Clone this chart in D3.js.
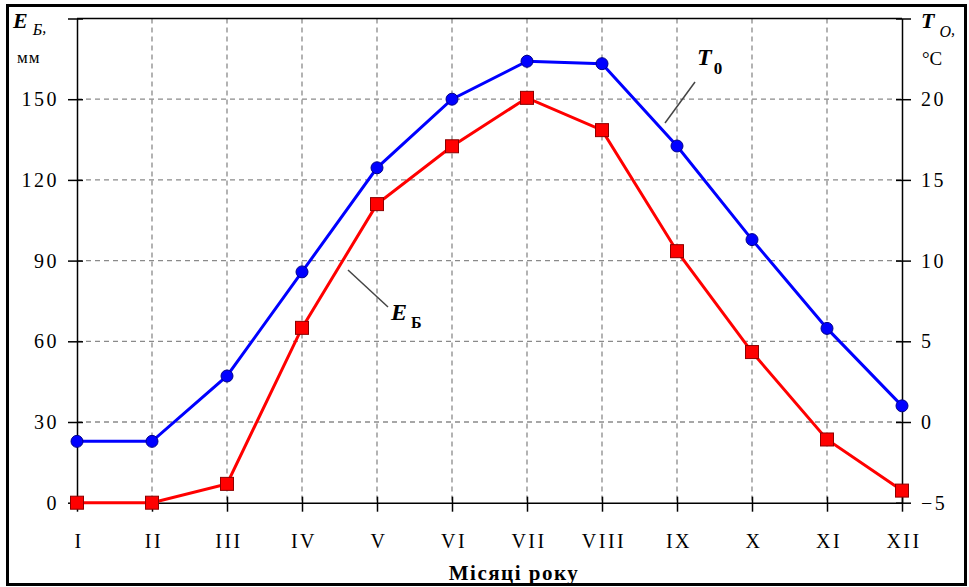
<!DOCTYPE html>
<html lang="uk">
<head>
<meta charset="UTF-8">
<title>Випаровування і температура</title>
<script src="https://d3js.org/d3.v7.min.js"></script>
<style type="text/css">
    body { margin: 0; background: #fff; }
    svg text { font-family: "Liberation Serif", "DejaVu Serif", serif; fill: #000; }
    .tickLbl { font-size: 20px; letter-spacing: 2.5px; }
    .grid { stroke: #8a8a8a; stroke-width: 1.3; stroke-dasharray: 5,4; }
</style>
</head>
<body>
<div id="chart"></div>
<script type="text/javascript">
// місяці та дані
var months = ['I', 'II', 'III', 'IV', 'V', 'VI', 'VII', 'VIII', 'IX', 'X', 'XI', 'XII'];
var evap = [0, 0, 7, 65, 111, 132.5, 150.5, 138.5, 93.5, 56, 23.5, 4.5];        // E_Б, мм
var temp = [-1.2, -1.2, 2.85, 9.3, 15.75, 20, 22.35, 22.2, 17.1, 11.3, 5.8, 1.0]; // T_O, °C
var leftTicks = [0, 30, 60, 90, 120, 150, 180];
var rightTicks = [-5, 0, 5, 10, 15, 20, 25];

var w = 969, h = 587;
var x0 = 77, x1 = 902, yTop = 18.5, yBot = 502.7;

var svg = d3.select('#chart').append('svg')
    .attr('width', w)
    .attr('height', h);

// рамка
svg.append('rect')
    .attr('x', 7.5).attr('y', 5.5)
    .attr('width', 958).attr('height', 579)
    .attr('fill', 'none').attr('stroke', '#000').attr('stroke-width', 3);

var x = d3.scalePoint().domain(months).range([x0, x1]);
var yL = d3.scaleLinear().domain([0, 180]).range([yBot, yTop]);
var yR = d3.scaleLinear().domain([-5, 25]).range([yBot, yTop]);

// сітка
svg.append('g').selectAll('line')
    .data(leftTicks.slice(1, -1))
    .enter().append('line')
    .attr('class', 'grid')
    .attr('x1', x0).attr('x2', x1)
    .attr('y1', function (d) { return yL(d); })
    .attr('y2', function (d) { return yL(d); });

svg.append('g').selectAll('line')
    .data(months.slice(1, -1))
    .enter().append('line')
    .attr('class', 'grid')
    .attr('y1', yTop).attr('y2', yBot)
    .attr('x1', function (d) { return x(d); })
    .attr('x2', function (d) { return x(d); });

// верхня лінія рамки графіка
svg.append('line')
    .attr('x1', x0).attr('x2', x1)
    .attr('y1', yTop).attr('y2', yTop)
    .attr('stroke', '#000').attr('stroke-width', 1.5);

// осі
var axL = svg.append('g')
    .attr('transform', 'translate(' + x0 + ',0)')
    .call(d3.axisLeft(yL).tickValues(leftTicks).tickSizeInner(9).tickSizeOuter(0).tickPadding(12));
var axR = svg.append('g')
    .attr('transform', 'translate(' + x1 + ',0)')
    .call(d3.axisRight(yR).tickValues(rightTicks).tickSizeInner(9).tickSizeOuter(0).tickPadding(10));
var axB = svg.append('g')
    .attr('transform', 'translate(0,' + yBot + ')')
    .call(d3.axisBottom(x).tickSizeInner(9).tickSizeOuter(0).tickPadding(22));

[axL, axR, axB].forEach(function (ax) {
    ax.select('.domain').attr('stroke', '#000').attr('stroke-width', 1.5);
    ax.selectAll('.tick line').attr('stroke', '#000').attr('stroke-width', 1.5);
    ax.selectAll('.tick text').attr('class', 'tickLbl').attr('font-size', null).attr('font-family', null);
});
axL.selectAll('.tick line').attr('x2', 6).attr('x1', -9);
axR.selectAll('.tick line').attr('x1', -6).attr('x2', 9);
axB.selectAll('.tick line').attr('y1', -6).attr('y2', 9);
axL.selectAll('.tick text').filter(function (d) { return d === 180; }).remove();
axR.selectAll('.tick text').filter(function (d) { return d === 25; }).remove();
axL.selectAll('.tick text').attr('dx', '3');
axB.selectAll('.tick text').attr('dx', '1.5');

// лінії
var lineE = d3.line()
    .x(function (d, i) { return x(months[i]); })
    .y(function (d) { return yL(d); });
var lineT = d3.line()
    .x(function (d, i) { return x(months[i]); })
    .y(function (d) { return yR(d); });

svg.append('path').datum(temp)
    .attr('d', lineT)
    .attr('fill', 'none').attr('stroke', '#0000ff').attr('stroke-width', 3);
svg.append('path').datum(evap)
    .attr('d', lineE)
    .attr('fill', 'none').attr('stroke', '#ff0000').attr('stroke-width', 3);

svg.append('g').selectAll('circle')
    .data(temp)
    .enter().append('circle')
    .attr('cx', function (d, i) { return x(months[i]); })
    .attr('cy', function (d) { return yR(d); })
    .attr('r', 6)
    .attr('fill', '#0000ff').attr('stroke', '#00008b').attr('stroke-width', 1);

var sq = 13;
svg.append('g').selectAll('rect')
    .data(evap)
    .enter().append('rect')
    .attr('x', function (d, i) { return x(months[i]) - sq / 2; })
    .attr('y', function (d) { return yL(d) - sq / 2; })
    .attr('width', sq).attr('height', sq)
    .attr('fill', '#ff0000').attr('stroke', '#8b0000').attr('stroke-width', 1);

// підписи кривих
svg.append('line')
    .attr('x1', 348).attr('y1', 270).attr('x2', 388).attr('y2', 307)
    .attr('stroke', '#444').attr('stroke-width', 1.5);
var lE = svg.append('text').attr('x', 391).attr('y', 320)
    .style('font-weight', 'bold').style('font-style', 'italic').style('font-size', '24px');
lE.append('tspan').text('E');
lE.append('tspan').attr('dx', 4).attr('dy', 8).style('font-size', '16px').style('font-style', 'normal').text('Б');

svg.append('line')
    .attr('x1', 665).attr('y1', 123).attr('x2', 695).attr('y2', 82)
    .attr('stroke', '#444').attr('stroke-width', 1.5);
var lT = svg.append('text').attr('x', 697).attr('y', 65)
    .style('font-weight', 'bold').style('font-style', 'italic').style('font-size', '24px');
lT.append('tspan').text('T');
lT.append('tspan').attr('dx', 2).attr('dy', 9).style('font-size', '17px').style('font-style', 'normal').text('0');

// назви осей
var tl = svg.append('text').attr('x', 13).attr('y', 28)
    .style('font-weight', 'bold').style('font-style', 'italic').style('font-size', '22px');
tl.append('tspan').text('E');
tl.append('tspan').attr('dx', 5).attr('dy', 7).style('font-weight', 'normal').style('font-size', '16px').text('Б');
tl.append('tspan').attr('dy', -2).style('font-weight', 'normal').style('font-size', '16px').text(',');
svg.append('text').attr('x', 17).attr('y', 63)
    .style('font-size', '17px').style('letter-spacing', '1px').text('мм');

var tr = svg.append('text').attr('x', 921).attr('y', 28)
    .style('font-weight', 'bold').style('font-style', 'italic').style('font-size', '22px');
tr.append('tspan').text('T');
tr.append('tspan').attr('dx', 5).attr('dy', 9).style('font-weight', 'normal').style('font-size', '16px').text('O');
tr.append('tspan').attr('dy', -2).style('font-weight', 'normal').style('font-size', '16px').text(',');
svg.append('text').attr('x', 922).attr('y', 65)
    .style('font-size', '19px').text('°C');

svg.append('text').attr('x', 514).attr('y', 580)
    .attr('text-anchor', 'middle')
    .style('font-weight', 'bold').style('font-size', '21px').style('letter-spacing', '1.5px')
    .text('Місяці року');
</script>
</body>
</html>
